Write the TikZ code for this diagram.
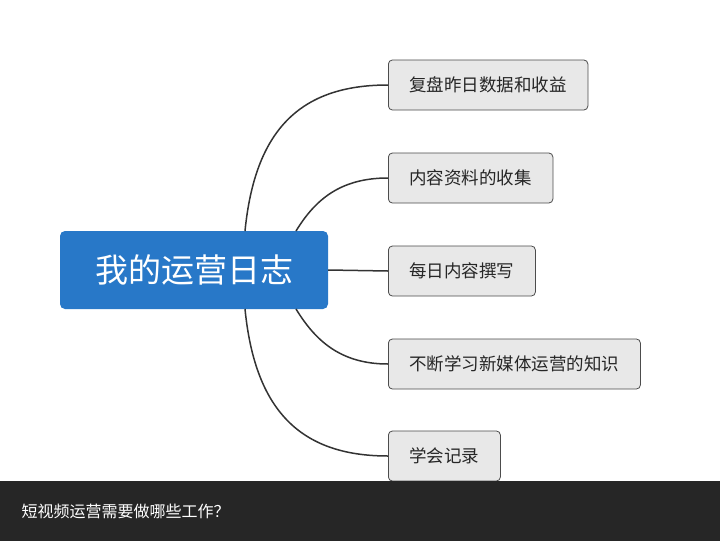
\documentclass[tikz,border=0pt]{standalone}
\usepackage{fontspec}
\setmainfont{Noto Sans CJK SC}
\begin{document}
\begin{tikzpicture}[x=1pt,y=-1pt,
  leaf/.style={draw=black!70,fill=black!9,rounded corners=4pt,line width=0.8pt,minimum height=50pt,anchor=west,inner xsep=21pt,font=\fontsize{17.5}{20}\selectfont,text=black!85},
  conn/.style={draw=black!80,line width=1.5pt}]
\useasboundingbox (0,0) rectangle (720,541);
\fill[white] (0,0) rectangle (720,541);
\node[fill={rgb,255:red,40;green,120;blue,200},rounded corners=5pt,minimum width=268pt,minimum height=78pt,text=white,font=\fontsize{33}{36}\selectfont] (m) at (194,270) {我的运营日志};
\node[leaf] (b1) at (388,85) {复盘昨日数据和收益};
\node[leaf] (b2) at (388,178) {内容资料的收集};
\node[leaf] (b3) at (388,271) {每日内容撰写};
\node[leaf] (b4) at (388,364) {不断学习新媒体运营的知识};
\node[leaf] (b5) at (388,456) {学会记录};
\coordinate (s1) at (245,231);
\coordinate (s2) at (296,231);
\coordinate (s4) at (296,309);
\coordinate (s5) at (245,309);
\draw[conn] (s1) .. controls (255,130) and (300,85) .. (b1.west);
\draw[conn] (s2) .. controls (315,200) and (340,178) .. (b2.west);
\draw[conn] (m.east) -- (b3.west);
\draw[conn] (s4) .. controls (315,340) and (340,364) .. (b4.west);
\draw[conn] (s5) .. controls (255,410) and (300,456) .. (b5.west);
\fill[black!85] (0,481) rectangle (720,541);
\node[anchor=west,text=white,font=\fontsize{16}{19}\selectfont] (t) at (18,511) {短视频运营需要做哪些工作？};
\end{tikzpicture}
\end{document}
